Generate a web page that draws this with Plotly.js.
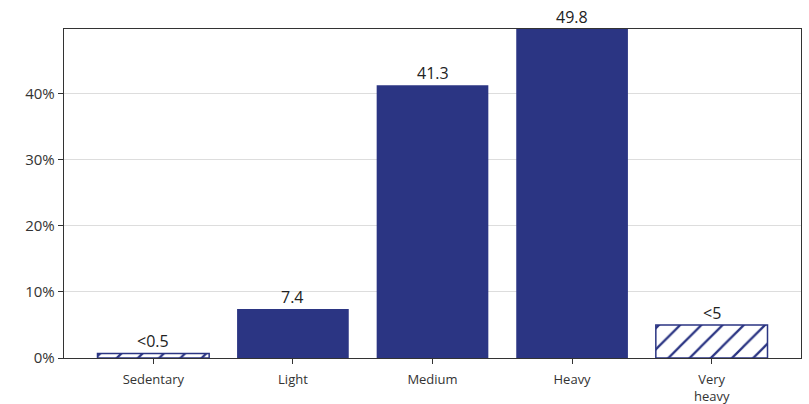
<!DOCTYPE html>
<html>
<head>
<meta charset="utf-8">
<script src="https://cdn.plot.ly/plotly-3.0.1.min.js"></script>
<style>html,body{margin:0;padding:0;background:#fff;}#chart{width:809px;height:404px;}</style>
</head>
<body>
<div id="chart"></div>
<script>
const categories = ["Sedentary", "Light", "Medium", "Heavy", "Very<br>heavy"];
const values = [0.7, 7.4, 41.3, 49.8, 5.0];
const labels = ["<0.5", "7.4", "41.3", "49.8", "<5"];
const hatched = [true, false, false, false, true];
const yTicks = [0, 10, 20, 30, 40];
const yTickText = ["0%", "10%", "20%", "30%", "40%"];

const navy = "#2B3583";
const font = "Open Sans, Liberation Sans, sans-serif";

const trace = {
  type: "bar",
  x: categories,
  y: values,
  width: 0.8,
  marker: {
    color: navy,
    line: {color: navy, width: hatched.map(h => h ? 1.5 : 0)},
    pattern: {
      shape: hatched.map(h => h ? "/" : ""),
      bgcolor: "#ffffff",
      fillmode: "replace",
      size: 15,
      solidity: 0.15
    }
  },
  hoverinfo: "skip",
  cliponaxis: false
};

const annotations = categories.map((c, i) => ({
  x: c, y: values[i], xref: "x", yref: "y",
  text: labels[i], showarrow: false, yanchor: "bottom", yshift: -1,
  font: {family: font, size: 16, color: "#222"}
}));

const layout = {
  width: 809, height: 404,
  margin: {l: 64, r: 8, t: 29, b: 46},
  paper_bgcolor: "#fff", plot_bgcolor: "#fff",
  showlegend: false,
  bargap: 0.2,
  xaxis: {
    type: "category",
    range: [-0.64, 4.64],
    showline: true, linecolor: "#333", linewidth: 1.3, mirror: true,
    ticks: "outside", ticklen: 5, tickcolor: "#333",
    ticklabelstandoff: 4,
    tickfont: {family: font, size: 13, color: "#333"},
    showgrid: false, fixedrange: true
  },
  yaxis: {
    range: [0, 49.8],
    tickvals: yTicks, ticktext: yTickText,
    showline: true, linecolor: "#333", linewidth: 1.3, mirror: true,
    ticks: "outside", ticklen: 5, tickcolor: "#333",
    tickfont: {family: font, size: 15, color: "#333"},
    showgrid: true, gridcolor: "#DDDDDD", gridwidth: 1,
    zeroline: false, fixedrange: true
  },
  annotations: annotations
};

Plotly.newPlot("chart", [trace], layout, {staticPlot: true, displayModeBar: false});
</script>
</body>
</html>
